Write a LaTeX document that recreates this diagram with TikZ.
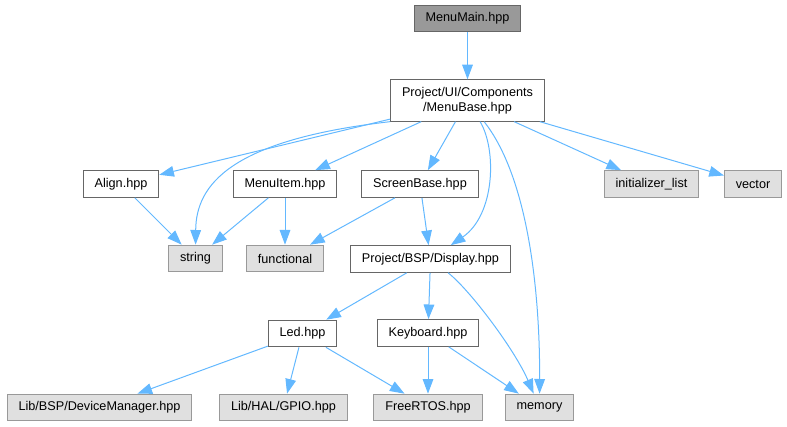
\documentclass[tikz,border=0pt]{standalone}
\usepackage{fontspec}
\setmainfont{Liberation Sans}
\usetikzlibrary{arrows.meta}
\definecolor{edgeblue}{HTML}{63B8FF}
\definecolor{boxline}{HTML}{666666}
\definecolor{extline}{HTML}{999999}
\definecolor{extfill}{HTML}{E0E0E0}
\definecolor{topfill}{HTML}{999999}

\begin{document}
\begin{tikzpicture}[x=0.75pt, y=-0.75pt, font=\fontsize{9.5}{11}\selectfont,
	file/.style={shape=rectangle, draw=boxline, line width=0.75pt, inner xsep=8.5pt, inner ysep=0pt, minimum height=20pt, align=center},
	sysfile/.style={file, draw=extline, fill=extfill},
	topfile/.style={file, fill=topfill},
	dep/.style={draw=edgeblue, line width=0.75pt, -{Triangle[length=11pt, width=8pt]}}]
	\useasboundingbox (0, 0) rectangle (787, 427);
	% Paths, nodes and wires:
	\node[topfile] (menumain) at (467.5, 18.5){MenuMain.hpp};
	\node[file, minimum height=31pt] (menubase) at (467.5, 100.5){Project/UI/Components\\/MenuBase.hpp};
	\node[file] (align) at (121, 184){Align.hpp};
	\node[file] (menuitem) at (285, 184){MenuItem.hpp};
	\node[file] (screenbase) at (420, 184){ScreenBase.hpp};
	\node[sysfile] (initlist) at (651.5, 184){initializer\_list};
	\node[sysfile] (vector) at (753, 184){vector};
	\node[sysfile] (string) at (195.5, 258.5){string};
	\node[sysfile] (functional) at (285, 258.5){functional};
	\node[file] (display) at (430.5, 259){Project/BSP/Display.hpp};
	\node[file] (led) at (302.5, 333.5){Led.hpp};
	\node[file] (keyboard) at (428, 333){Keyboard.hpp};
	\node[sysfile] (devmanager) at (99.5, 407.5){Lib/BSP/DeviceManager.hpp};
	\node[sysfile] (gpio) at (283.5, 407.5){Lib/HAL/GPIO.hpp};
	\node[sysfile] (freertos) at (428, 407.5){FreeRTOS.hpp};
	\node[sysfile] (memory) at (539.5, 407.5){memory};
	\draw[dep] (menumain) -- (menubase);
	\draw[dep] (menubase) -- (align);
	\draw[dep] (menubase.south west) .. controls (230, 140) and (196, 185) .. (string);
	\draw[dep] (menubase) -- (menuitem);
	\draw[dep] (menubase) -- (screenbase);
	\draw[dep] (menubase) .. controls (497, 150) and (495, 215) .. (display);
	\draw[dep] (menubase) .. controls (530, 180) and (540, 300) .. (memory);
	\draw[dep] (menubase) -- (initlist);
	\draw[dep] (menubase) -- (vector);
	\draw[dep] (align) -- (string);
	\draw[dep] (menuitem) -- (string);
	\draw[dep] (menuitem) -- (functional);
	\draw[dep] (screenbase) -- (functional);
	\draw[dep] (screenbase) -- (display);
	\draw[dep] (display) -- (led);
	\draw[dep] (display) -- (keyboard);
	\draw[dep] (display) .. controls (470, 290) and (515, 350) .. (memory);
	\draw[dep] (led) -- (devmanager);
	\draw[dep] (led) -- (gpio);
	\draw[dep] (led) -- (freertos);
	\draw[dep] (keyboard) -- (freertos);
	\draw[dep] (keyboard) -- (memory);
\end{tikzpicture}
\end{document}
